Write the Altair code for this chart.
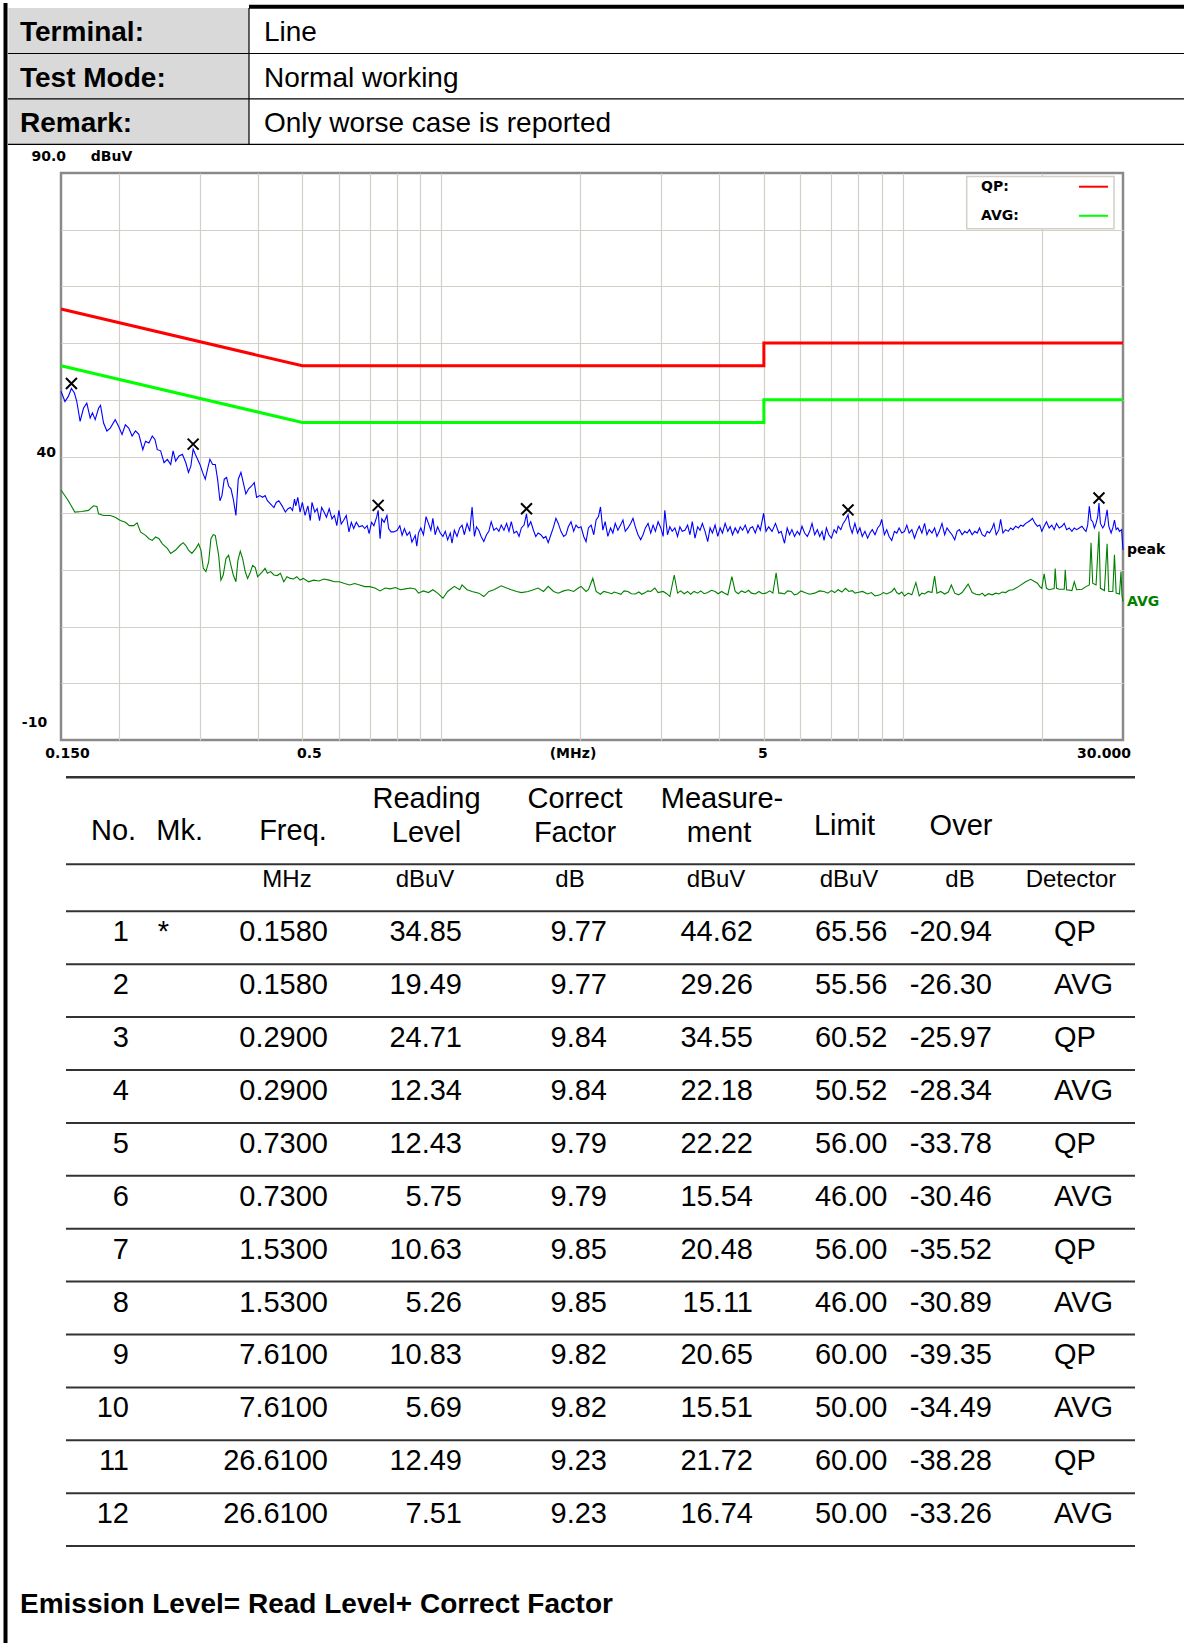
import altair as alt
import pandas as pd

# ---------------- header block ----------------
HEADER_LABELS = ["Terminal:", "Test Mode:", "Remark:"]
HEADER_VALUES = ["Line", "Normal working", "Only worse case is reported"]

# ---------------- spectrum traces (MHz, dBuV) ----------------
PEAK_MHZ = [
    0.150, 0.153, 0.1556, 0.158, 0.1604, 0.1623, 0.165, 0.1678, 0.1706, 0.1735,
    0.1755, 0.1779, 0.1809, 0.1827, 0.1855, 0.1886, 0.1918, 0.1966, 0.200, 0.2034,
    0.2068, 0.2103, 0.2139, 0.2175, 0.2212, 0.2256, 0.2287, 0.2326, 0.2365, 0.2397,
    0.2425, 0.2466, 0.2508, 0.2550, 0.2593, 0.2624, 0.2658, 0.2703, 0.2749, 0.2796,
    0.2833, 0.2867, 0.290, 0.2931, 0.2965, 0.300, 0.304, 0.3081, 0.3117, 0.3153,
    0.3196, 0.3239, 0.3276, 0.3315, 0.3348, 0.3387, 0.3427, 0.3461, 0.3502, 0.3543,
    0.3590, 0.3632, 0.3681, 0.3724, 0.3773, 0.3824, 0.3882, 0.3934, 0.398, 0.4046,
    0.4099, 0.4153, 0.4200, 0.4269, 0.4340, 0.4389, 0.4447, 0.4520, 0.4594, 0.4655,
    0.4709, 0.4762, 0.4809, 0.4840, 0.4888, 0.4944, 0.500, 0.5069, 0.5140, 0.5202,
    0.5247, 0.5320, 0.5384, 0.5449, 0.5506, 0.5573, 0.5640, 0.5718, 0.5797, 0.5868,
    0.5939, 0.600, 0.6071, 0.6142, 0.6225, 0.6310, 0.6384, 0.6460, 0.6546, 0.6635,
    0.6747, 0.6827, 0.6908, 0.6978, 0.7060, 0.7146, 0.7244, 0.730, 0.7369, 0.7433,
    0.7522, 0.7626, 0.7691, 0.7783, 0.7891, 0.8026, 0.8132, 0.8225, 0.8320, 0.8430,
    0.8541, 0.8639, 0.8782,
    0.885, 0.8925, 0.903, 0.915, 0.927, 0.938, 0.9495, 0.959, 0.970, 0.9818,
    0.995, 1.0084, 1.0203, 1.0323, 1.0462, 1.0550, 1.0674, 1.0817, 1.0963, 1.1092,
    1.1223, 1.1374, 1.1527, 1.1662, 1.1800, 1.1919, 1.2059, 1.2201, 1.2366, 1.2532,
    1.2680, 1.2829, 1.3002, 1.3177, 1.3332, 1.3489, 1.3671, 1.3855, 1.4018, 1.4183,
    1.4374, 1.4568, 1.4740, 1.4913, 1.5114, 1.530, 1.5420, 1.5628, 1.5839, 1.6025,
    1.6214, 1.6433, 1.6654, 1.6850, 1.7049, 1.7279, 1.7512, 1.7718, 1.7927, 1.8168,
    1.8413, 1.8630, 1.8849, 1.9103, 1.9360, 1.9588, 1.9818, 2.0085, 2.0355, 2.0595,
    2.0837, 2.1118, 2.1402, 2.1654, 2.1909, 2.2130, 2.2391, 2.2654, 2.2959, 2.3268,
    2.3542, 2.3819, 2.4140, 2.4465, 2.4753, 2.5044, 2.5381, 2.5723, 2.6026, 2.6332,
    2.6686, 2.7046, 2.7364, 2.7686, 2.8059, 2.8437, 2.8771, 2.9110, 2.9502, 2.9900,
    3.0252, 3.0506, 3.0917, 3.1281, 3.1649, 3.2075, 3.2507, 3.2890, 3.3277, 3.3725,
    3.4180, 3.4582, 3.4989, 3.5460, 3.5938, 3.6361, 3.6788, 3.7284, 3.7786, 3.8231,
    3.8681, 3.9202, 3.9730, 4.0197, 4.0670, 4.1218, 4.1773, 4.2265, 4.2762, 4.3338,
    4.3921, 4.4438, 4.4961, 4.5566, 4.6180, 4.6723, 4.7274, 4.7911, 4.8557, 4.9121,
    4.9947, 5.0535, 5.1215, 5.2079, 5.2978, 5.3876,
    5.451, 5.543, 5.617, 5.684, 5.751, 5.828, 5.907, 5.976, 6.047, 6.128,
    6.211, 6.284, 6.358, 6.443, 6.530, 6.607, 6.685, 6.752, 6.831, 6.912,
    7.005, 7.099, 7.183, 7.243, 7.340, 7.427, 7.514, 7.610, 7.679, 7.769,
    7.874, 7.980, 8.074, 8.169, 8.279, 8.390, 8.489, 8.589, 8.705, 8.822,
    8.926, 9.001, 9.122, 9.229, 9.338, 9.464, 9.591, 9.704, 9.818, 9.950,
    10.084, 10.203, 10.323, 10.462, 10.602, 10.727, 10.854, 10.999, 11.148, 11.279,
    11.411, 11.565, 11.720, 11.858, 11.998, 12.159, 12.323, 12.468, 12.615, 12.785,
    12.957, 13.109, 13.264, 13.443, 13.624, 13.784, 13.946, 14.134, 14.324, 14.493,
    14.663, 14.860, 15.060, 15.237, 15.416, 15.624, 15.755, 15.940, 16.154, 16.290,
    16.481, 16.703, 16.928, 17.127, 17.329, 17.562, 17.798, 18.007, 18.219, 18.464,
    18.713, 18.933, 19.092, 19.349, 19.577, 19.808, 20.007, 20.242, 20.480, 20.756,
    21.035, 21.283, 21.533, 21.823, 22.116, 22.377, 22.640, 22.945, 23.253, 23.527,
    23.803, 24.124, 24.448, 24.736, 24.944, 25.153, 25.364, 25.577, 25.791, 26.008,
    26.226, 26.446, 26.610, 26.802, 27.117, 27.345, 27.713, 27.945, 28.274, 28.511,
    28.750, 28.991, 29.234, 29.480, 29.800, 30.000,
]
PEAK_DBUV = [
    51.5, 49.7, 50.6, 52.0, 51.2, 49.7, 46.2, 48.5, 49.4, 46.8,
    47.7, 46.5, 48.5, 49.0, 45.9, 44.5, 45.0, 46.5, 45.3, 43.9,
    45.6, 45.0, 43.6, 44.5, 43.9, 41.2, 42.7, 42.4, 43.6, 43.0,
    41.2, 41.0, 38.9, 39.5, 38.6, 41.0, 39.2, 40.1, 40.4, 38.9,
    37.2, 38.3, 41.3, 40.4, 39.5, 38.6, 37.2, 36.0, 37.8, 39.5,
    38.6, 38.6, 36.0, 32.2, 33.1, 36.0, 36.3, 34.8, 34.3, 32.5,
    29.6, 36.0, 37.2, 35.4, 33.4, 34.3, 34.8, 35.4, 32.8, 33.1,
    32.8, 33.1, 32.2, 31.6, 31.0, 31.9, 32.2, 31.3, 30.2, 30.8,
    31.0, 30.5, 32.5, 31.3, 32.8, 30.2, 31.9, 29.6, 31.3, 28.7,
    31.9, 30.2, 30.8, 28.7, 31.0, 30.2, 29.3, 30.8, 29.0, 29.6,
    27.8, 30.5, 28.1, 28.7, 29.6, 26.7, 28.4, 27.3, 28.4, 27.6,
    27.8, 27.3, 27.8, 26.4, 28.4, 27.8, 29.3, 30.5, 25.5, 29.0,
    28.4, 29.6, 27.3, 26.7, 26.7, 27.0, 27.8, 26.1, 27.3, 26.1,
    26.7, 24.9, 26.1,
    24.2, 26.5, 27.4, 26.2, 29.4, 28.2, 27.0, 29.1, 26.2, 27.6,
    26.5, 25.9, 26.8, 25.3, 26.5, 24.7, 27.0, 25.9, 27.4, 27.9,
    26.2, 28.2, 26.8, 31.1, 25.9, 27.6, 27.0, 25.9, 25.0, 26.2,
    26.8, 28.5, 27.0, 27.4, 26.8, 27.9, 27.0, 28.2, 26.8, 28.5,
    26.5, 26.8, 25.9, 27.4, 27.9, 29.9, 27.6, 28.5, 27.0, 25.9,
    26.5, 26.2, 25.6, 25.9, 24.8, 26.2, 27.6, 29.1, 28.2, 26.8,
    25.9, 26.2, 27.6, 28.5, 26.8, 27.9, 27.4, 27.6, 25.9, 25.0,
    27.4, 27.9, 26.2, 28.8, 29.4, 31.1, 27.0, 28.5, 25.9, 27.4,
    26.5, 28.2, 27.0, 27.9, 28.8, 26.8, 27.4, 28.2, 29.1, 27.6,
    26.2, 25.3, 26.2, 27.4, 28.2, 26.5, 27.9, 26.8, 28.5, 27.4,
    25.9, 30.5, 26.2, 27.6, 26.8, 27.4, 25.9, 27.6, 26.8, 27.0,
    27.9, 26.2, 28.5, 25.6, 27.6, 27.0, 28.2, 26.8, 25.0, 27.4,
    26.5, 27.9, 25.9, 27.4, 26.5, 28.2, 26.8, 27.6, 26.2, 27.4,
    26.5, 27.6, 27.0, 27.9, 26.5, 27.4, 27.6, 26.5, 27.9, 27.0,
    30.0, 26.8, 27.6, 26.8, 28.2, 26.5,
    26.8, 24.7, 27.4, 26.2, 27.1, 25.9, 26.8, 26.2, 27.7, 26.5,
    25.9, 26.8, 28.2, 26.2, 27.1, 25.9, 26.8, 25.2, 27.4, 26.2,
    25.6, 27.1, 26.5, 27.7, 27.1, 28.2, 28.8, 29.7, 27.7, 26.5,
    28.2, 26.5, 27.4, 25.9, 26.8, 25.6, 26.5, 27.1, 26.2, 27.4,
    27.9, 28.9, 26.2, 27.1, 25.9, 25.2, 26.8, 26.5, 27.4, 26.5,
    26.8, 27.9, 26.5, 27.1, 25.6, 26.8, 27.7, 26.5, 28.2, 26.2,
    27.1, 26.5, 27.4, 25.9, 26.8, 28.2, 26.2, 27.4, 26.8, 26.2,
    25.3, 26.8, 27.1, 26.2, 26.8, 26.5, 27.1, 26.2, 26.8, 26.5,
    27.4, 26.2, 25.9, 26.8, 26.5, 27.4, 28.2, 26.2, 27.1, 28.9,
    26.5, 27.1, 26.8, 27.4, 27.1, 27.7, 27.4, 27.9, 27.7, 28.2,
    28.5, 28.8, 29.1, 28.2, 27.7, 27.9, 26.8, 27.7, 28.5, 27.4,
    27.9, 27.1, 28.2, 27.4, 27.7, 28.2, 27.1, 27.4, 26.8, 27.4,
    27.1, 27.4, 27.7, 27.1, 26.8, 27.9, 31.2, 28.8, 28.5, 27.4,
    28.2, 29.4, 31.8, 28.2, 27.4, 27.9, 30.6, 27.7, 26.5, 27.4,
    28.8, 27.1, 27.4, 26.8, 27.1, 23.5,
]

AVG_MHZ = [
    0.150, 0.1556, 0.1607, 0.1664, 0.172, 0.1764, 0.1794, 0.1809, 0.1855, 0.1918,
    0.1966, 0.2017, 0.2068, 0.2110, 0.2157, 0.2193, 0.2230, 0.2287, 0.2326, 0.2365,
    0.2405, 0.2446, 0.2487, 0.2550, 0.2593, 0.2658, 0.2713, 0.2759, 0.2796, 0.2833,
    0.2882, 0.2941, 0.298, 0.3015, 0.3051, 0.3091, 0.3133, 0.3169, 0.3206, 0.3239,
    0.3293, 0.3331, 0.337, 0.3416, 0.3461, 0.3502, 0.3543, 0.3590, 0.3626, 0.3669,
    0.3712, 0.3761, 0.3805, 0.385, 0.3902, 0.3954, 0.400, 0.4046, 0.4099, 0.4153,
    0.4200, 0.4269, 0.4340, 0.4411, 0.4483, 0.4557, 0.4632, 0.4709, 0.4785, 0.4864,
    0.4944, 0.5026, 0.5157, 0.5292, 0.5430, 0.5572, 0.5718, 0.5868, 0.6014, 0.6173,
    0.6331, 0.6492, 0.6657, 0.6827, 0.700, 0.7182, 0.7369, 0.756, 0.7757, 0.7959,
    0.8158, 0.8361, 0.8569, 0.8782,
    0.8925, 0.915, 0.938, 0.959, 0.982, 1.0084, 1.0323, 1.0674, 1.0963, 1.1092,
    1.1374, 1.1662, 1.2059, 1.2366, 1.2680, 1.3002, 1.3489, 1.3855, 1.4183, 1.4568,
    1.4913, 1.5420, 1.5839, 1.6214, 1.6654, 1.7049, 1.7512, 1.7927, 1.8413, 1.8849,
    1.9360, 1.9818, 2.0085, 2.0595, 2.0837, 2.1297, 2.1654, 2.2130, 2.25, 2.2959,
    2.34, 2.37, 2.4140, 2.45, 2.49, 2.5381, 2.58, 2.6332, 2.68, 2.72,
    2.7686, 2.80, 2.8437, 2.902, 2.9502, 3.0252, 3.08, 3.1281, 3.1975, 3.2507,
    3.30, 3.36, 3.4180, 3.47, 3.53, 3.5938, 3.65, 3.71, 3.7786, 3.85,
    3.9202, 3.98, 4.05, 4.11, 4.1773, 4.262, 4.3338, 4.40, 4.47, 4.5566,
    4.63, 4.70, 4.7911, 4.88, 4.96, 5.0535, 5.15, 5.23, 5.316, 5.3876,
    5.451, 5.543, 5.63, 5.732, 5.82, 5.907, 6.02, 6.128, 6.28, 6.443,
    6.60, 6.752, 6.88, 7.005, 7.12, 7.243, 7.38, 7.514, 7.64, 7.769,
    7.88, 7.980, 8.18, 8.390, 8.55, 8.705, 8.926, 9.08, 9.229, 9.464,
    9.591, 9.70, 9.818, 9.95, 10.084, 10.28, 10.462, 10.674, 10.854, 11.00,
    11.148, 11.35, 11.565, 11.720, 11.858, 12.08, 12.323, 12.55, 12.742, 12.957,
    13.20, 13.443, 13.853, 14.134, 14.40, 14.663, 14.86, 15.060, 15.34, 15.624,
    15.90, 16.154, 16.43, 16.703, 17.00, 17.329, 17.798, 18.464, 18.933, 19.577,
    19.808, 20.007, 20.242, 20.480, 20.756, 21.283, 21.390, 21.533, 21.823, 22.377,
    22.489, 22.640, 23.253, 23.527, 23.803, 24.448, 24.944, 25.364, 25.577, 25.791,
    26.226, 26.610, 26.802, 27.345, 27.713, 27.945, 28.511, 28.750, 28.991, 29.480,
    29.700, 29.850, 30.000,
]
AVG_DBUV = [
    34.1, 32.2, 30.2, 30.3, 30.5, 31.3, 31.2, 29.9, 29.6, 29.6,
    29.3, 28.7, 28.4, 27.8, 27.8, 28.3, 26.7, 26.1, 25.5, 25.2,
    25.8, 25.5, 24.6, 23.8, 22.9, 23.5, 24.3, 24.8, 24.3, 23.5,
    22.9, 23.8, 24.6, 23.5, 20.3, 19.7, 21.4, 25.5, 26.2, 26.1,
    22.6, 18.2, 19.1, 22.0, 22.6, 20.8, 19.1, 17.9, 21.7, 23.3,
    22.0, 19.7, 18.5, 19.4, 20.8, 20.4, 18.8, 19.2, 19.7, 20.3,
    19.4, 19.7, 19.1, 19.0, 19.4, 17.9, 18.8, 18.5, 18.4, 18.8,
    18.2, 18.5, 17.9, 18.2, 18.05, 18.4, 18.2, 17.9, 17.9, 17.6,
    17.35, 17.6, 17.35, 17.05, 17.05, 16.8, 16.3, 16.8, 16.65, 16.9,
    16.5, 16.65, 16.8, 16.65,
    15.9, 16.3, 16.0, 16.5, 15.9, 15.0, 16.2, 17.1, 16.5, 17.35,
    16.5, 16.2, 15.9, 15.3, 16.2, 16.5, 17.2, 16.8, 16.5, 16.2,
    16.0, 16.2, 16.5, 16.8, 16.2, 17.1, 16.2, 15.9, 16.3, 16.5,
    16.2, 16.8, 17.1, 16.2, 16.5, 18.5, 16.2, 15.7, 16.2, 16.0,
    15.8, 16.1, 15.9, 15.7, 16.3, 16.2, 15.8, 15.75, 16.1, 15.7,
    16.0, 16.3, 16.2, 16.8, 16.0, 16.2, 15.8, 15.3, 19.1, 15.9,
    16.3, 15.8, 16.2, 15.7, 16.2, 15.9, 16.3, 15.8, 16.0, 16.4,
    16.2, 15.8, 16.2, 15.9, 15.6, 18.8, 16.2, 15.8, 16.3, 16.0,
    16.4, 15.9, 15.75, 16.2, 15.8, 15.9, 16.3, 15.9, 19.5, 15.9,
    15.9, 15.75, 16.3, 16.2, 15.6, 15.75, 16.3, 16.0, 15.7, 15.9,
    16.3, 16.2, 15.9, 16.35, 16.0, 16.5, 16.1, 16.75, 16.2, 16.35,
    15.9, 16.0, 16.2, 15.75, 16.0, 15.4, 15.6, 16.0, 15.75, 16.2,
    16.75, 16.0, 15.75, 16.1, 15.4, 15.9, 15.6, 17.75, 15.4, 15.9,
    15.75, 16.2, 16.0, 18.9, 15.9, 16.2, 15.75, 16.1, 17.35, 15.9,
    15.6, 16.0, 17.5, 16.0, 15.7, 15.6, 15.9, 15.4, 15.8, 15.6,
    15.9, 15.75, 16.1, 16.0, 16.4, 16.5, 17.05, 17.9, 18.35, 17.65,
    17.05, 16.75, 19.3, 16.75, 16.5, 16.7, 20.25, 16.75, 16.6, 16.6,
    20.0, 16.5, 16.35, 17.9, 16.5, 16.6, 17.05, 17.35, 24.8, 17.65,
    17.35, 26.75, 16.75, 16.35, 24.6, 16.2, 16.2, 22.65, 15.9, 15.75,
    19.7, 15.6, 14.4,
]

# CISPR 22 class B conducted limits
LIMIT_MHZ = [0.15, 0.5, 5, 5, 30]
QP_LIMIT_DBUV = [66, 56, 56, 60, 60]
AVG_LIMIT_DBUV = [56, 46, 46, 50, 50]

MARKER_MHZ = [0.158, 0.29, 0.73, 1.53, 7.61, 26.61]

GRID_MHZ = [0.2, 0.3, 0.4, 0.5, 0.6, 0.7, 0.8, 0.9, 1, 2, 3, 4, 5, 6, 7, 8, 9, 10, 20]
GRID_DBUV = [0, 10, 20, 30, 40, 50, 60, 70, 80]
X_TICK_MHZ = [0.15, 0.5, 5, 30]
X_TICK_TEXT = ["0.150", "0.5", "5", "30.000"]
Y_TICK_DBUV = [90, 40, -10]
Y_TICK_TEXT = ["90.0", "40", "-10"]
X_UNIT = "(MHz)"
Y_UNIT = "dBuV"
LEGEND_NAMES = ["QP:", "AVG:"]
TRACE_NAMES = ["peak", "AVG"]

# ---------------- final measurement table ----------------
ROW_NO = list(range(1, 13))
ROW_MK = ["*"] + [""] * 11
ROW_FREQ = [0.158, 0.158, 0.29, 0.29, 0.73, 0.73, 1.53, 1.53, 7.61, 7.61, 26.61, 26.61]
ROW_READING = [34.85, 19.49, 24.71, 12.34, 12.43, 5.75, 10.63, 5.26, 10.83, 5.69, 12.49, 7.51]
ROW_FACTOR = [9.77, 9.77, 9.84, 9.84, 9.79, 9.79, 9.85, 9.85, 9.82, 9.82, 9.23, 9.23]
ROW_MEASURE = [44.62, 29.26, 34.55, 22.18, 22.22, 15.54, 20.48, 15.11, 20.65, 15.51, 21.72, 16.74]
ROW_LIMIT = [65.56, 55.56, 60.52, 50.52, 56.00, 46.00, 56.00, 46.00, 60.00, 50.00, 60.00, 50.00]
ROW_OVER = [-20.94, -26.30, -25.97, -28.34, -33.78, -30.46, -35.52, -30.89, -39.35, -34.49, -38.28, -33.26]
ROW_DETECTOR = ["QP", "AVG"] * 6
HEAD_TEXT = ["No.", "Mk.", "Freq.", "Reading", "Level", "Correct", "Factor",
             "Measure-", "ment", "Limit", "Over"]
UNIT_TEXT = ["MHz", "dBuV", "dB", "dBuV", "dBuV", "dB", "Detector"]
FOOTNOTE = "Emission Level= Read Level+ Correct Factor"

# ---------------- styling / layout ----------------
W, H = 1062, 567                      # plot area of the spectrum
PAD = {"left": 61, "top": 173, "right": 61, "bottom": 903}
GRID_COLOR = "#d4d0c8"
FRAME_COLOR = "#8a8a8a"
LINE_COLOR = "#333333"
CHART_FONT = "DejaVu Sans"
DOC_FONT = "Liberation Sans"


def one(**kw):
    return pd.DataFrame({k: [v] for k, v in kw.items()})


def text_at(txt, x, y, size, weight="normal", align="center", font=DOC_FONT, color="black"):
    return alt.Chart(one(t=txt)).mark_text(
        align=align, baseline="middle", font=font, fontSize=size,
        fontWeight=weight, color=color,
    ).encode(x=alt.value(x), y=alt.value(y), text="t:N")


def hrule(x1, x2, y, width=2, color=LINE_COLOR):
    return alt.Chart(one(k=0)).mark_rule(strokeWidth=width, color=color).encode(
        x=alt.value(x1), x2=alt.value(x2), y=alt.value(y))


def vrule(x, y1, y2, width=1, color="black"):
    return alt.Chart(one(k=0)).mark_rule(strokeWidth=width, color=color).encode(
        x=alt.value(x), y=alt.value(y1), y2=alt.value(y2))


# ---------------- spectrum panel ----------------
xs = alt.Scale(type="log", domain=[0.15, 30], nice=False)
ys = alt.Scale(domain=[-10, 90], nice=False, zero=False)
xa = alt.Axis(values=GRID_MHZ, grid=True, gridColor=GRID_COLOR, gridWidth=1.2,
              labels=False, ticks=False, domain=False, title=None)
ya = alt.Axis(values=GRID_DBUV, grid=True, gridColor=GRID_COLOR, gridWidth=1.2,
              labels=False, ticks=False, domain=False, title=None)
X = alt.X("mhz:Q", scale=xs, axis=xa)
Y = alt.Y("dbuv:Q", scale=ys, axis=ya)

limits_df = pd.concat([
    pd.DataFrame({"mhz": LIMIT_MHZ, "dbuv": QP_LIMIT_DBUV, "kind": "QP",
                  "i": range(len(LIMIT_MHZ))}),
    pd.DataFrame({"mhz": LIMIT_MHZ, "dbuv": AVG_LIMIT_DBUV, "kind": "AVG",
                  "i": range(len(LIMIT_MHZ))}),
])
limit_lines = alt.Chart(limits_df).mark_line(strokeWidth=3).encode(
    x=X, y=Y, order="i:Q",
    color=alt.Color("kind:N", scale=alt.Scale(domain=["QP", "AVG"],
                                              range=["#ff0000", "#00ff00"]), legend=None),
)

peak_df = pd.DataFrame({"mhz": PEAK_MHZ, "dbuv": PEAK_DBUV})
avg_df = pd.DataFrame({"mhz": AVG_MHZ, "dbuv": AVG_DBUV})
avg_line = alt.Chart(avg_df).mark_line(color="#008000", strokeWidth=1.1).encode(x=X, y=Y)
peak_line = alt.Chart(peak_df).mark_line(color="#0000ff", strokeWidth=1.1).encode(x=X, y=Y)

peak_lookup = dict(zip(PEAK_MHZ, PEAK_DBUV))
marker_df = pd.DataFrame({"mhz": MARKER_MHZ, "dbuv": [peak_lookup[f] for f in MARKER_MHZ]})
markers = alt.Chart(marker_df).mark_point(
    shape="M-1,-1L1,1M-1,1L1,-1", size=120, filled=False, strokeWidth=2,
    color="black", yOffset=-5, opacity=1,
).encode(x=X, y=Y)

# trace names written just right of each trace's last sample
end_labels = [
    alt.Chart(one(mhz=mhz[-1], dbuv=db[-1], t=name)).mark_text(
        align="left", baseline="middle", dx=4, font=CHART_FONT, fontSize=14,
        fontWeight="bold", color=col,
    ).encode(x=X, y=Y, text="t:N")
    for name, mhz, db, col in zip(TRACE_NAMES, [PEAK_MHZ, AVG_MHZ],
                                  [PEAK_DBUV, AVG_DBUV], ["black", "#008000"])
]

x_tick_dx = [6.5, 7, -1, -19]
x_ticks = [
    alt.Chart(one(mhz=f, t=t)).mark_text(
        baseline="middle", dx=dx, font=CHART_FONT, fontSize=14, fontWeight="bold",
    ).encode(x=X, y=alt.value(H + 14), text="t:N")
    for f, t, dx in zip(X_TICK_MHZ, X_TICK_TEXT, x_tick_dx)
]
y_tick_pos = [(-12.3, -16.3), (-14.7, -4), (-26.5, -17.3)]
y_ticks = [
    alt.Chart(one(dbuv=v, t=t)).mark_text(
        baseline="middle", dy=dy, font=CHART_FONT, fontSize=14, fontWeight="bold",
    ).encode(x=alt.value(x), y=Y, text="t:N")
    for v, t, (x, dy) in zip(Y_TICK_DBUV, Y_TICK_TEXT, y_tick_pos)
]
y_unit = alt.Chart(one(dbuv=90, t=Y_UNIT)).mark_text(
    baseline="middle", dy=-16.3, font=CHART_FONT, fontSize=14, fontWeight="bold",
).encode(x=alt.value(50.6), y=Y, text="t:N")
x_unit = text_at(X_UNIT, 512, H + 14, 14, "bold", font=CHART_FONT)

spectrum = alt.layer(limit_lines, avg_line, peak_line, markers, *end_labels,
                     y_unit, *x_ticks, *y_ticks)

# legend box in the upper right corner of the plot
legend_y = alt.Y("name:N", scale=alt.Scale(type="point", domain=LEGEND_NAMES,
                                           range=[13.7, 42.8], padding=0), axis=None)
legend_df = pd.DataFrame({"name": LEGEND_NAMES})
legend_box = alt.Chart(one(k=0)).mark_rect(
    fill="white", stroke=GRID_COLOR, strokeWidth=1.5,
).encode(x=alt.value(905.7), x2=alt.value(1053), y=alt.value(3.4), y2=alt.value(55.7))
legend_text = alt.Chart(legend_df).mark_text(
    align="left", baseline="middle", font=CHART_FONT, fontSize=14, fontWeight="bold",
).encode(x=alt.value(920), y=legend_y, text="name:N")
legend_lines = alt.Chart(legend_df).mark_rule(strokeWidth=2).encode(
    x=alt.value(1018), x2=alt.value(1047), y=legend_y,
    color=alt.Color("name:N", scale=alt.Scale(domain=LEGEND_NAMES,
                                              range=["#ff0000", "#00ff00"]), legend=None))

# ---------------- header block ----------------
hdr_df = pd.DataFrame({"label": HEADER_LABELS, "value": HEADER_VALUES})
hdr_scale = alt.Scale(type="band", domain=HEADER_LABELS, range=[-164.9, -28.7],
                      paddingInner=0, paddingOuter=0)


def hdr_y(pos):
    return alt.Y("label:N", scale=hdr_scale, axis=None, bandPosition=pos)


hdr_fill = alt.Chart(hdr_df).mark_rect(color="#d9d9d9").encode(
    x=alt.value(-52.6), x2=alt.value(188), y=alt.Y("label:N", scale=hdr_scale, axis=None))
hdr_lines = alt.Chart(hdr_df).mark_rule(color="black", strokeWidth=1.2).encode(
    x=alt.value(-53), x2=alt.value(W + 61), y=hdr_y(1))
hdr_labels = alt.Chart(hdr_df).mark_text(
    align="left", baseline="middle", dy=2.5, font=DOC_FONT, fontSize=28, fontWeight="bold",
).encode(x=alt.value(-41), y=hdr_y(0.5), text="label:N")
hdr_values = alt.Chart(hdr_df).mark_text(
    align="left", baseline="middle", dy=2.5, font=DOC_FONT, fontSize=28,
).encode(x=alt.value(203), y=hdr_y(0.5), text="value:N")
hdr_divider = vrule(188, -164.9, -28.7, 1.2)
top_bar = hrule(188, W + 61, -166.3, 4, "black")
left_bar = vrule(-55.5, -170, 1470, 4)

# ---------------- measurement table ----------------
tbl_df = pd.DataFrame({
    "no": ROW_NO, "mk": ROW_MK, "freq": ROW_FREQ, "reading": ROW_READING,
    "factor": ROW_FACTOR, "measure": ROW_MEASURE, "limit": ROW_LIMIT,
    "over": ROW_OVER, "det": ROW_DETECTOR,
})
# plain hyphen for the negative margins
tbl_df["over_txt"] = [f"{v:.2f}" for v in ROW_OVER]
row_scale = alt.Scale(type="band", domain=ROW_NO, range=[738.3, 1373.1],
                      paddingInner=0, paddingOuter=0)


def row_y(pos):
    return alt.Y("no:O", scale=row_scale, axis=None, bandPosition=pos)


col_specs = [
    (alt.Text("no:O"), 68, "right"),
    (alt.Text("mk:N"), 102.5, "center"),
    (alt.Text("freq:Q", format=".4f"), 267, "right"),
    (alt.Text("reading:Q", format=".2f"), 401, "right"),
    (alt.Text("factor:Q", format=".2f"), 546, "right"),
    (alt.Text("measure:Q", format=".2f"), 692, "right"),
    (alt.Text("limit:Q", format=".2f"), 826.5, "right"),
    (alt.Text("over_txt:N"), 931, "right"),
    (alt.Text("det:N"), 993, "left"),
]
tbl_cells = [
    alt.Chart(tbl_df).mark_text(align=al, baseline="middle", dy=-5.5,
                                font=DOC_FONT, fontSize=29).encode(
        x=alt.value(x), y=row_y(0.5), text=txt)
    for txt, x, al in col_specs
]
tbl_row_lines = alt.Chart(tbl_df).mark_rule(color=LINE_COLOR, strokeWidth=2).encode(
    x=alt.value(5), x2=alt.value(1074), y=row_y(1))

head_pos = [(52.6, 657.7), (118.6, 657.7), (232, 657.7), (365.5, 626.2), (365.5, 659.7),
            (514, 626.2), (514, 659.7), (661, 626.2), (658, 659.7), (783.5, 653.4),
            (900, 653.4)]
unit_x = [226, 364, 509, 655, 788, 899, 1010]
tbl_head = [text_at(t, x, y, 29) for t, (x, y) in zip(HEAD_TEXT, head_pos)]
tbl_units = [text_at(t, x, 706.7, 24) for t, x in zip(UNIT_TEXT, unit_x)]
tbl_rules = [hrule(5, 1074, 604.2, 2.4), hrule(5, 1074, 691.2), hrule(5, 1074, 738.3)]

footnote = text_at(FOOTNOTE, -41, 1431.7, 28, "bold", align="left")

chart = alt.layer(
    hdr_fill, hdr_lines, hdr_labels, hdr_values, hdr_divider, top_bar, left_bar,
    spectrum, x_unit, legend_box, legend_text, legend_lines,
    *tbl_rules, tbl_row_lines, *tbl_head, *tbl_units, *tbl_cells, footnote,
).resolve_scale(
    x="independent", y="independent", color="independent",
).properties(
    width=W, height=H, padding=PAD, background="white",
    autosize=alt.AutoSizeParams(type="none"),
).configure_view(
    stroke=FRAME_COLOR, strokeWidth=2.5,
)

chart.save("out.html", embed_options={"renderer": "svg", "actions": False})
